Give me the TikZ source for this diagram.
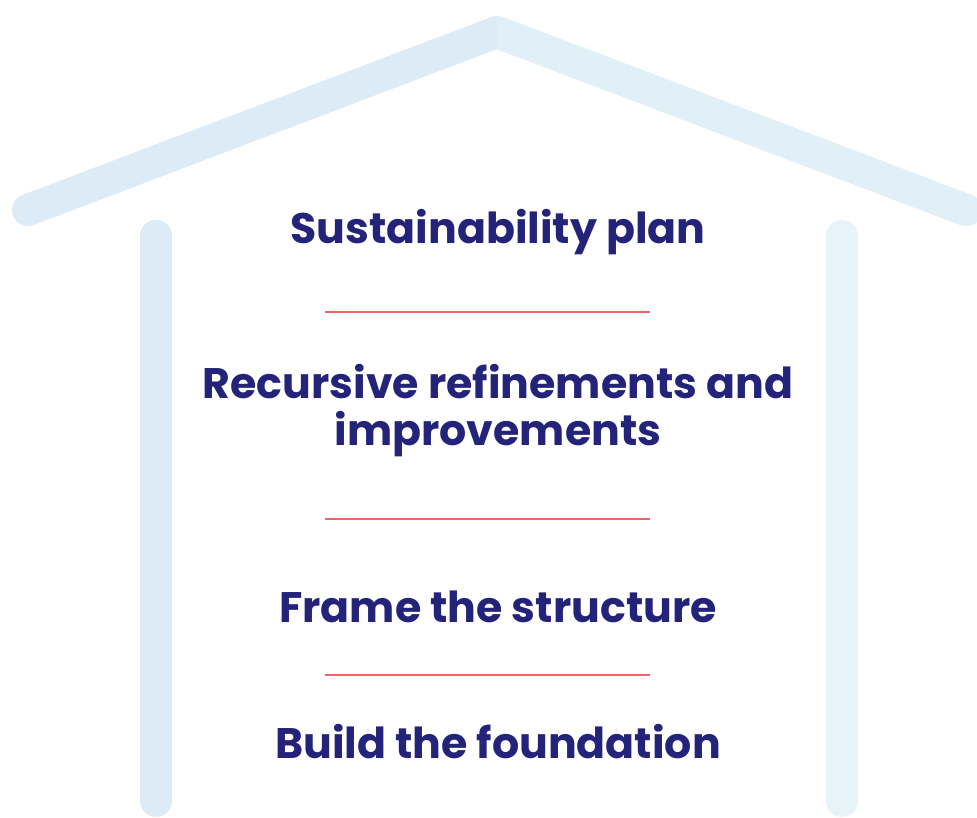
\documentclass[tikz,border=0pt]{standalone}
\usepackage{fontspec}
\setmainfont{Poppins}[BoldFont={* Bold}]
\definecolor{txt}{HTML}{24237A}
\definecolor{redl}{HTML}{F06464}
\definecolor{roofA}{HTML}{DCEBF5}
\definecolor{roofB}{HTML}{E1EFF7}
\definecolor{wallB}{HTML}{E6F4FA}
\begin{document}
\begin{tikzpicture}[x=1pt,y=-1pt,
  beam/.style={line width=32pt,line cap=round,line join=round},
  label/.style={text=txt,font=\fontsize{42.7}{47}\selectfont\bfseries,inner sep=0pt,align=center},
  sep/.style={draw=redl,line width=2pt}]
\useasboundingbox (0,0) rectangle (977,817);
\coordinate (rl) at (28,210);
\coordinate (ap) at (497,32);
\coordinate (rr) at (966,210);
\coordinate (lwt) at (156,236);
\coordinate (lwb) at (156,801);
\coordinate (rwt) at (842,236);
\coordinate (rwb) at (842,801);
\begin{scope}
\clip (0,0) rectangle (977,817);
\draw[beam,roofA] (lwt) -- (lwb);
\draw[beam,wallB] (rwt) -- (rwb);
\draw[beam,roofA] (rl) -- (ap) -- (rr);
\end{scope}
\begin{scope}
\clip (497,0) rectangle (977,817);
\draw[beam,roofB] (rl) -- (ap) -- (rr);
\end{scope}
\node[label,anchor=base] (t1) at (498,243) {Sustainability plan};
\node[label,anchor=base] (t2a) at (498,398) {Recursive refinements and};
\node[label,anchor=base] (t2b) at (498,445) {improvements};
\node[label,anchor=base] (t3) at (498,622) {Frame the structure};
\node[label,anchor=base] (t4) at (498,758) {Build the foundation};
\coordinate (s1a) at (325,312); \coordinate (s1b) at (650,312);
\coordinate (s2a) at (325,519); \coordinate (s2b) at (650,519);
\coordinate (s3a) at (325,675); \coordinate (s3b) at (650,675);
\draw[sep] (s1a) -- (s1b);
\draw[sep] (s2a) -- (s2b);
\draw[sep] (s3a) -- (s3b);
\end{tikzpicture}
\end{document}
